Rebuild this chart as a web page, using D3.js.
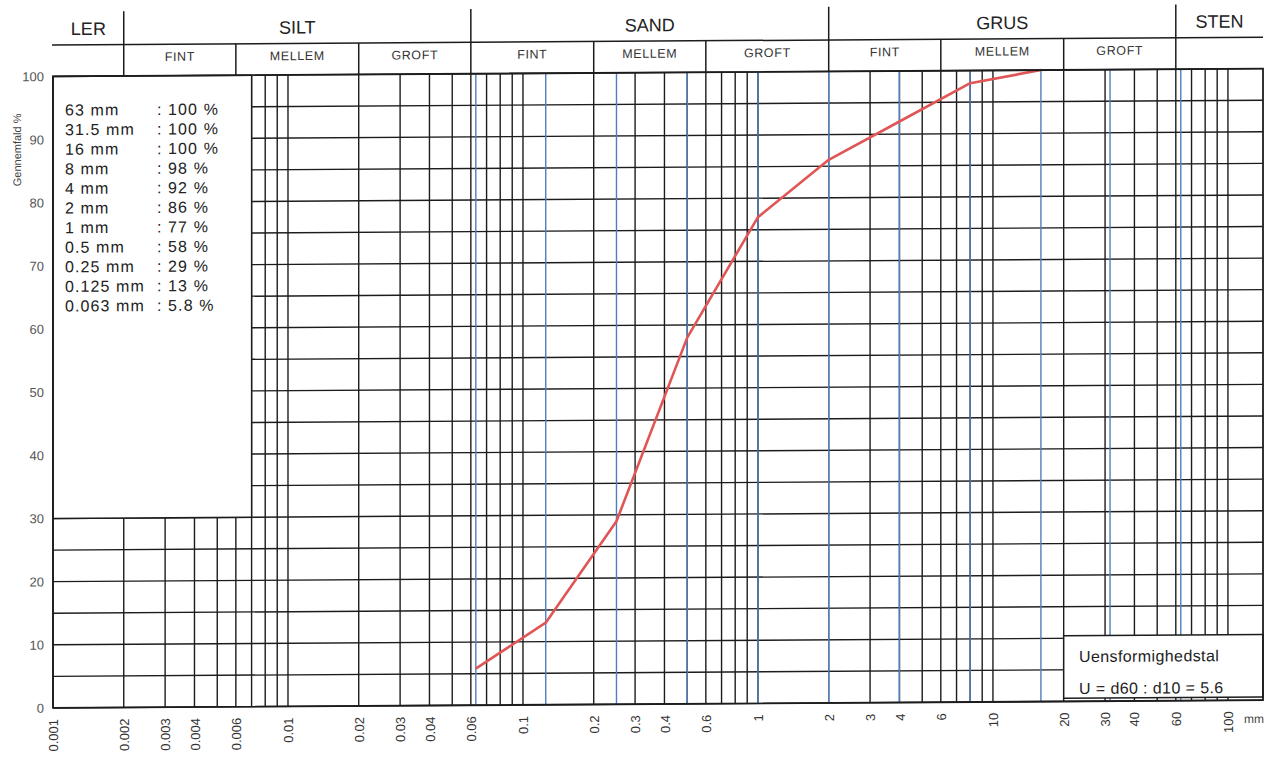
<!DOCTYPE html>
<html>
<head>
<meta charset="utf-8">
<script src="https://cdn.jsdelivr.net/npm/d3@7"></script>
<style>
  body { margin: 0; background: #fff; }
  svg { display: block; font-family: "Liberation Sans", Arial, sans-serif; }
</style>
</head>
<body>
<svg id="chart" width="1280" height="759"></svg>
<script>
// sieve analysis
var sieveSizes = [63, 31.5, 16, 8, 4, 2, 1, 0.5, 0.25, 0.125, 0.063];
var sieveLabels = ['63', '31.5', '16', '8', '4', '2', '1', '0.5', '0.25', '0.125', '0.063'];
var passing = [100, 100, 100, 98, 92, 86, 77, 58, 29, 13, 5.8];
var uValue = '5.6';

// axis labels
var xTickLabels = ['0.001', '0.002', '0.003', '0.004', '0.006', '0.01', '0.02', '0.03', '0.04', '0.06',
  '0.1', '0.2', '0.3', '0.4', '0.6', '1', '2', '3', '4', '6', '10', '20', '30', '40', '60', '100'];
var yTicks = [0, 10, 20, 30, 40, 50, 60, 70, 80, 90, 100];

// soil classes (header)
var classNames = ['LER', 'SILT', 'SAND', 'GRUS', 'STEN'];
var classBounds = [0.001, 0.002, 0.06, 2, 60, 141];
var subNames = ['FINT', 'MELLEM', 'GROFT'];
var subBounds = [[0.002, 0.006, 0.02, 0.06], [0.06, 0.2, 0.6, 2], [2, 6, 20, 60]];

var plotLeft = 53, plotRight = 1263, plotTop = 76.8, plotBottom = 708.3;
var headTop = 12, headMid = 45.3;
var ink = '#1c1c1c';

var x = d3.scaleLog().domain([classBounds[0], classBounds[classBounds.length - 1]]).range([plotLeft, plotRight]);
var y = d3.scaleLinear().domain([0, 100]).range([plotBottom, plotTop]);

var svg = d3.select('#chart');
// scanned sheet is a little skewed
var g = svg.append('g').attr('transform', 'skewY(-0.37)');

// grid
var grid = g.append('g');
grid.selectAll('line.v').data(x.ticks()).enter().append('line')
  .attr('class', 'v')
  .attr('x1', function (d) { return x(d); })
  .attr('x2', function (d) { return x(d); })
  .attr('y1', plotTop).attr('y2', plotBottom)
  .attr('stroke', ink).attr('stroke-width', 1.4);
grid.selectAll('line.h').data(y.ticks(20)).enter().append('line')
  .attr('class', 'h')
  .attr('x1', plotLeft).attr('x2', plotRight)
  .attr('y1', function (d) { return y(d); })
  .attr('y2', function (d) { return y(d); })
  .attr('stroke', ink).attr('stroke-width', 1.4);
grid.selectAll('line.s').data(sieveSizes).enter().append('line')
  .attr('class', 's')
  .attr('x1', function (d) { return x(d); })
  .attr('x2', function (d) { return x(d); })
  .attr('y1', plotTop).attr('y2', plotBottom)
  .attr('stroke', '#4d7fc2').attr('stroke-width', 1.4);

// legend box over the grid
g.append('rect')
  .attr('x', plotLeft).attr('y', plotTop)
  .attr('width', x(0.007) - plotLeft).attr('height', y(30) - plotTop)
  .attr('fill', '#fff').attr('stroke', ink).attr('stroke-width', 1.4);

g.selectAll('text.size').data(sieveLabels).enter().append('text')
  .attr('class', 'size')
  .attr('x', 65).attr('y', function (d, i) { return 116 + i * 19.6; })
  .attr('font-size', 16).attr('letter-spacing', 1.1).attr('fill', '#222')
  .text(function (d) { return d + ' mm'; });
g.selectAll('text.pass').data(passing).enter().append('text')
  .attr('class', 'pass')
  .attr('x', 157).attr('y', function (d, i) { return 116 + i * 19.6; })
  .attr('font-size', 16).attr('letter-spacing', 1.1).attr('fill', '#222')
  .text(function (d) { return ': ' + d + ' %'; });

// grading curve, up to the first sieve with 100 % passing
var pts = sieveSizes.map(function (s, i) { return { s: s, p: passing[i] }; })
  .sort(function (a, b) { return a.s - b.s; });
var end = pts.findIndex(function (d) { return d.p >= 100; });
pts = pts.slice(0, end + 1);

var line = d3.line()
  .x(function (d) { return x(d.s); })
  .y(function (d) { return y(d.p); });

g.append('path')
  .datum(pts)
  .attr('d', line)
  .attr('fill', 'none')
  .attr('stroke', '#e05555')
  .attr('stroke-width', 2.6)
  .attr('stroke-linejoin', 'round');

// uniformity box
g.append('rect')
  .attr('x', x(20)).attr('y', y(10.4))
  .attr('width', plotRight - x(20)).attr('height', y(0.5) - y(10.4))
  .attr('fill', '#fff').attr('stroke', ink).attr('stroke-width', 1.5);
g.append('text').attr('x', 1079).attr('y', 669)
  .attr('font-size', 16).attr('letter-spacing', 0.4).attr('fill', '#222')
  .text('Uensformighedstal');
g.append('text').attr('x', 1079).attr('y', 701)
  .attr('font-size', 16).attr('letter-spacing', 0.4).attr('fill', '#222')
  .text('U = d60 : d10 = ' + uValue);

// frame
g.append('rect')
  .attr('x', plotLeft).attr('y', plotTop)
  .attr('width', plotRight - plotLeft).attr('height', plotBottom - plotTop)
  .attr('fill', 'none').attr('stroke', ink).attr('stroke-width', 1.8);

// header
var head = g.append('g');
head.append('line')
  .attr('x1', plotLeft - 1).attr('x2', plotRight)
  .attr('y1', headMid).attr('y2', headMid)
  .attr('stroke', ink).attr('stroke-width', 1.5);
head.selectAll('line.major').data(classBounds.slice(1, -1)).enter().append('line')
  .attr('class', 'major')
  .attr('x1', function (d) { return x(d); })
  .attr('x2', function (d) { return x(d); })
  .attr('y1', headTop).attr('y2', plotTop)
  .attr('stroke', ink).attr('stroke-width', 1.5);
var inner = [];
subBounds.forEach(function (b) { inner.push(b[1], b[2]); });
head.selectAll('line.minor').data(inner).enter().append('line')
  .attr('class', 'minor')
  .attr('x1', function (d) { return x(d); })
  .attr('x2', function (d) { return x(d); })
  .attr('y1', headMid).attr('y2', plotTop)
  .attr('stroke', ink).attr('stroke-width', 1.5);
head.selectAll('text.cls').data(classNames).enter().append('text')
  .attr('class', 'cls')
  .attr('x', function (d, i) { return (x(classBounds[i]) + x(classBounds[i + 1])) / 2; })
  .attr('y', 35.5)
  .attr('text-anchor', 'middle')
  .attr('font-size', 18).attr('fill', '#222')
  .text(function (d) { return d; });
subBounds.forEach(function (b) {
  head.selectAll(null).data(subNames).enter().append('text')
    .attr('x', function (d, i) { return (x(b[i]) + x(b[i + 1])) / 2; })
    .attr('y', 62)
    .attr('text-anchor', 'middle')
    .attr('font-size', 12.5).attr('letter-spacing', 0.6).attr('fill', '#333')
    .text(function (d) { return d; });
});

// axes
var yAxis = g.append('g')
  .attr('transform', 'translate(' + plotLeft + ',0)')
  .call(d3.axisLeft(y).tickValues(yTicks).tickSize(0).tickPadding(9));
yAxis.select('.domain').remove();
yAxis.selectAll('text')
  .attr('font-size', 13).attr('fill', '#555')
  .attr('font-family', '"Liberation Sans", Arial, sans-serif');

var xAxis = g.append('g')
  .attr('transform', 'translate(0,' + plotBottom + ')')
  .call(d3.axisBottom(x)
    .tickValues(xTickLabels.map(Number))
    .tickFormat(function (d, i) { return xTickLabels[i]; })
    .tickSize(0));
xAxis.select('.domain').remove();
xAxis.selectAll('text')
  .attr('transform', 'rotate(-90)')
  .attr('x', -11).attr('y', 0).attr('dy', '0.35em')
  .attr('text-anchor', 'end')
  .attr('font-size', 13).attr('fill', '#333')
  .attr('font-family', '"Liberation Sans", Arial, sans-serif');

g.append('text').attr('x', 1244).attr('y', 731)
  .attr('font-size', 12).attr('fill', '#444')
  .text('mm');

g.append('text')
  .attr('transform', 'translate(17,150) rotate(-90)')
  .attr('text-anchor', 'middle').attr('dy', '0.35em')
  .attr('font-size', 11).attr('fill', '#444')
  .text('Gennemfald %');
</script>
</body>
</html>
